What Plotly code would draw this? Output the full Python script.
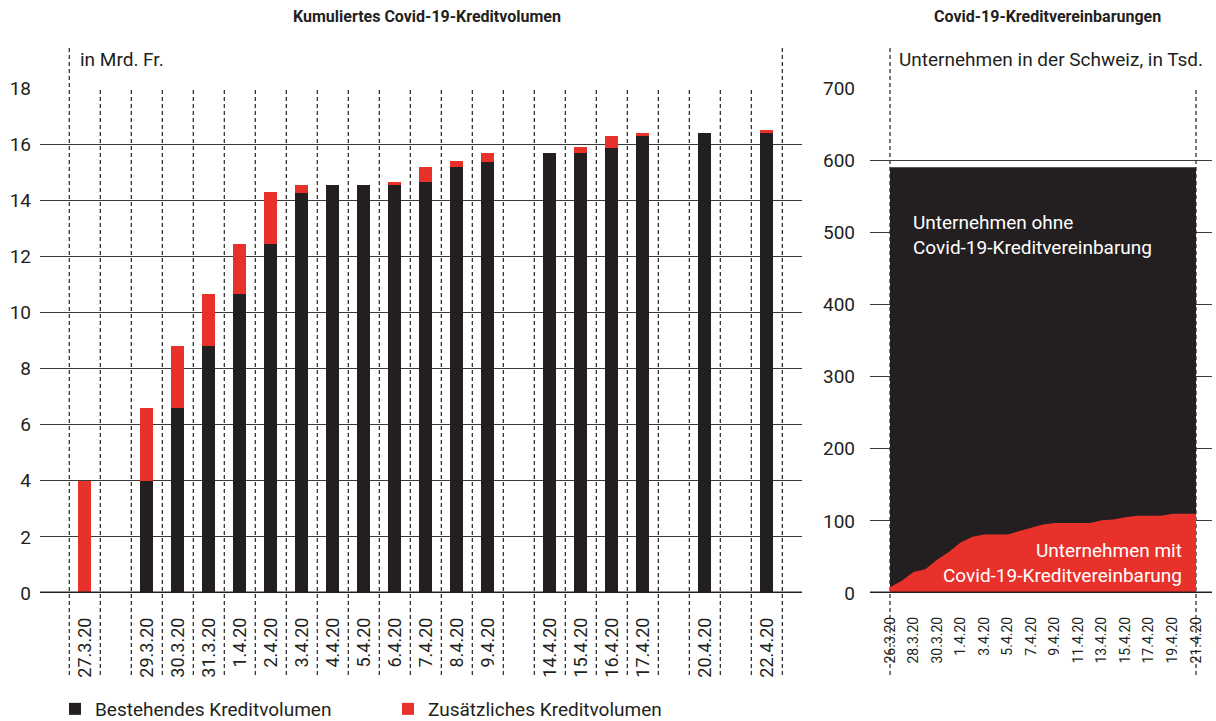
import plotly.graph_objects as go
import pandas as pd

# ---------------- data ----------------
# left chart: cumulative Covid-19 credit volume (bn CHF)
slot_labels = ["27.3.20", "gap1", "29.3.20", "30.3.20", "31.3.20", "1.4.20", "2.4.20",
               "3.4.20", "4.4.20", "5.4.20", "6.4.20", "7.4.20", "8.4.20", "9.4.20", "gap2",
               "14.4.20", "15.4.20", "16.4.20", "17.4.20", "gap3", "20.4.20", "gap4", "22.4.20"]
dates_left = ["27.3.20", "29.3.20", "30.3.20", "31.3.20", "1.4.20", "2.4.20", "3.4.20",
              "4.4.20", "5.4.20", "6.4.20", "7.4.20", "8.4.20", "9.4.20", "14.4.20",
              "15.4.20", "16.4.20", "17.4.20", "20.4.20", "22.4.20"]
bestehend = [0, 4.0, 6.6, 8.8, 10.65, 12.45, 14.25, 14.55, 14.55, 14.55, 14.65, 15.2,
             15.35, 15.7, 15.7, 15.85, 16.3, 16.4, 16.4]
zusaetzlich = [4.0, 2.6, 2.2, 1.85, 1.8, 1.85, 0.3, 0, 0, 0.1, 0.55, 0.2, 0.35, 0,
               0.2, 0.45, 0.1, 0, 0.1]
y_ticks_left = [0, 2, 4, 6, 8, 10, 12, 14, 16, 18]

# right chart: companies in Switzerland (thousands)
dates_right = pd.date_range("2020-03-26", "2020-04-21", freq="D")
mit_kredit = [8, 17, 29, 33, 46, 57, 70, 78, 81, 81, 81, 86, 90, 95, 97, 97, 97, 97,
              101, 102, 105, 107, 107, 107, 110, 110, 110]
unternehmen_total = [590] * len(dates_right)
y_ticks_right = [0, 100, 200, 300, 400, 500, 600, 700]
x_ticks_right = dates_right[::2]

# ---------------- styling ----------------
W, H = 1216, 721
BLACK = "#231f20"
RED = "#e8312a"
GRID = "#3a3a3a"
FONT = "Roboto"

def px(xpix):
    return xpix / W

def py(ypix):
    return (H - ypix) / H

fig = go.Figure()

fig.add_trace(go.Bar(x=dates_left, y=bestehend, name="Bestehendes Kreditvolumen",
                     marker=dict(color=BLACK, line=dict(width=0)), width=0.42,
                     xaxis="x", yaxis="y"))
fig.add_trace(go.Bar(x=dates_left, y=zusaetzlich, name="Zusätzliches Kreditvolumen",
                     marker=dict(color=RED, line=dict(width=0)), width=0.42,
                     xaxis="x", yaxis="y"))

fig.add_trace(go.Scatter(x=dates_right, y=unternehmen_total, mode="lines",
                         line=dict(width=0, color=BLACK), fill="tozeroy",
                         fillcolor=BLACK, showlegend=False, hoverinfo="skip",
                         xaxis="x2", yaxis="y2"))
fig.add_trace(go.Scatter(x=dates_right, y=mit_kredit, mode="lines",
                         line=dict(width=0, color=RED), fill="tozeroy",
                         fillcolor=RED, showlegend=False,
                         xaxis="x2", yaxis="y2"))

ydom = [py(593), py(88)]
day0 = dates_right[0]
xr2 = [day0 + pd.Timedelta(days=-1.70), day0 + pd.Timedelta(days=27.36)]

fig.update_layout(
    width=W, height=H,
    margin=dict(l=0, r=0, t=0, b=0, autoexpand=False),
    paper_bgcolor="white", plot_bgcolor="white",
    font=dict(family=FONT, size=19, color=BLACK),
    barmode="stack",
    bargap=0,
    xaxis=dict(domain=[px(40), px(802)], type="category",
               categoryorder="array", categoryarray=slot_labels,
               range=[-1.445, 23.135], tickvals=dates_left, ticktext=dates_left,
               tickangle=-90, tickfont=dict(size=18), showgrid=False,
               ticks="", ticklabelstandoff=20, showline=False, zeroline=False,
               anchor="y", fixedrange=True, automargin=False),
    yaxis=dict(domain=ydom, range=[0, 18], tickvals=y_ticks_left,
               showgrid=True, gridcolor=GRID, gridwidth=1.3,
               zeroline=False, ticks="", ticklabelstandoff=8,
               tickfont=dict(size=19), anchor="x", fixedrange=True, automargin=False),
    xaxis2=dict(domain=[px(870), px(1212)], type="date", range=xr2,
                tickvals=x_ticks_right, tickformat="%-d.%-m.%y",
                tickangle=-90, tickfont=dict(size=14), showgrid=False,
                ticks="", ticklabelstandoff=20, showline=False, zeroline=False,
                anchor="y2", fixedrange=True, automargin=False),
    yaxis2=dict(domain=ydom, range=[0, 700], tickvals=y_ticks_right,
                showgrid=True, gridcolor=GRID, gridwidth=1.3,
                zeroline=False, ticks="", ticklabelstandoff=14,
                tickfont=dict(size=19), anchor="x2", fixedrange=True, automargin=False),
    legend=dict(orientation="h", x=px(55), y=py(709), yanchor="middle",
                xanchor="left", entrywidth=288, entrywidthmode="pixels",
                font=dict(size=19), traceorder="normal", bgcolor="rgba(0,0,0,0)"),
    showlegend=True,
)

shapes = []
dash_style = dict(color="#222222", width=1.2, dash="4px,3px")
# left chart dashed slot boundaries
n = len(slot_labels)
for k in range(n + 1):
    top = py(45) if k in (0, n) else py(88)
    shapes.append(dict(type="line", xref="x", yref="paper", x0=k - 0.5, x1=k - 0.5,
                       y0=py(675), y1=top, line=dash_style, layer="below"))
# zero line left
shapes.append(dict(type="line", xref="paper", yref="y", x0=px(40), x1=px(802),
                   y0=0, y1=0, line=dict(color=BLACK, width=3), layer="above"))
# right chart dashed edges
shapes.append(dict(type="line", xref="x2", yref="paper", x0=dates_right[0], x1=dates_right[0],
                   y0=py(675), y1=py(45), line=dash_style, layer="below"))
shapes.append(dict(type="line", xref="x2", yref="paper", x0=dates_right[-1], x1=dates_right[-1],
                   y0=py(675), y1=py(88), line=dash_style, layer="below"))
shapes.append(dict(type="line", xref="paper", yref="y2", x0=px(870), x1=px(1212),
                   y0=0, y1=0, line=dict(color=BLACK, width=3), layer="above"))
fig.update_layout(shapes=shapes)

ann = [
    dict(text="<b>Kumuliertes Covid-19-Kreditvolumen</b>", x=px(427), y=py(17),
         xanchor="center", yanchor="middle", font=dict(size=16)),
    dict(text="<b>Covid-19-Kreditvereinbarungen</b>", x=px(1047), y=py(17),
         xanchor="center", yanchor="middle", font=dict(size=16)),
    dict(text="in Mrd. Fr.", x=px(78), y=py(60), xanchor="left", yanchor="middle",
         font=dict(size=19)),
    dict(text="Unternehmen in der Schweiz, in Tsd.", x=px(897), y=py(60),
         xanchor="left", yanchor="middle", font=dict(size=19)),
    dict(text="Unternehmen ohne<br>Covid-19-Kreditvereinbarung", x=px(911), y=py(235),
         xanchor="left", yanchor="middle", align="left",
         font=dict(size=19, color="white")),
    dict(text="Unternehmen mit<br>Covid-19-Kreditvereinbarung", x=px(1184), y=py(563),
         xanchor="right", yanchor="middle", align="right",
         font=dict(size=19, color="white")),
]
for a in ann:
    a.update(xref="paper", yref="paper", showarrow=False)
fig.update_layout(annotations=ann)

fig.write_html("out.html",
               config={"displayModeBar": False},
               post_script="document.body.style.margin='0px';document.body.style.overflow='hidden';")
